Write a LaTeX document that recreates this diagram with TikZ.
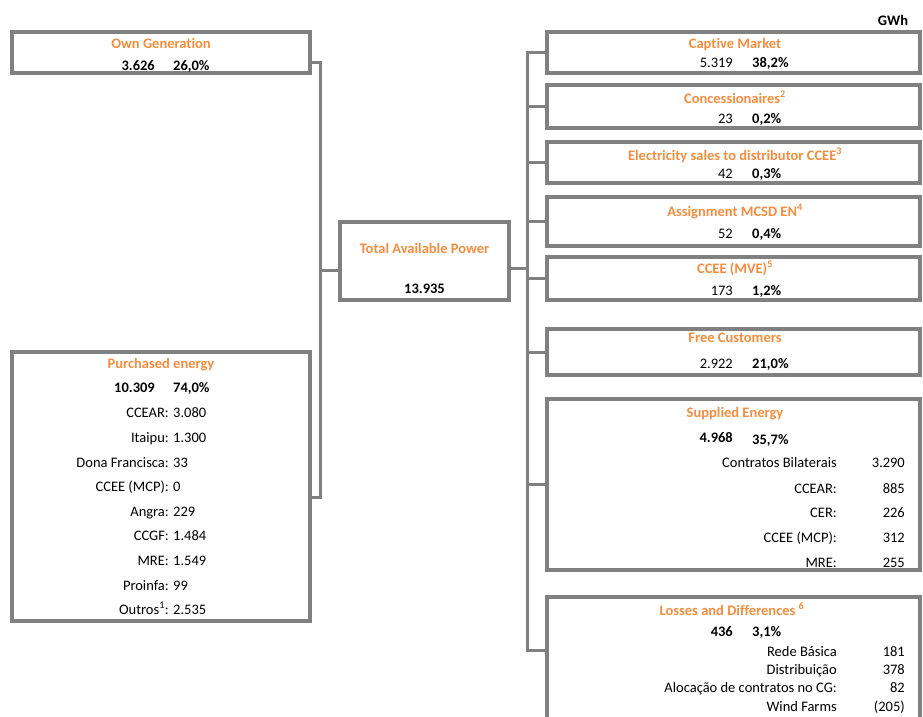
\documentclass[tikz,border=0pt]{standalone}
\usepackage{fontspec}
\setmainfont{Carlito}[Ligatures=NoCommon]
\definecolor{boxgray}{RGB}{128,128,128}
\definecolor{titleorange}{RGB}{247,140,60}

\begin{document}
\begin{tikzpicture}[x=1pt,y=-1pt]

\tikzset{
  panel/.style={
    draw=boxgray,
    line width=4pt,
    inner sep=0pt,
    outer sep=0pt,
  },
  link/.style={draw=boxgray, line width=3pt},
  txt/.style={inner sep=0pt, font=\fontsize{14.5}{17}\selectfont},
  head/.style={txt, text=titleorange, font=\fontsize{14.5}{17}\selectfont\bfseries, anchor=base},
  val/.style={txt, anchor=base east},
  bval/.style={txt, font=\fontsize{14.5}{17}\selectfont\bfseries, anchor=base east},
  pct/.style={txt, font=\fontsize{14.5}{17}\selectfont\bfseries, anchor=base west},
  item/.style={txt, anchor=base east},
  itemval/.style={txt, anchor=base west},
}

% Page frame
\useasboundingbox (0,0) rectangle (923,716);
\clip (0,0) rectangle (923,716);

% Unit
\node[txt, font=\fontsize{14.5}{17}\selectfont\bfseries, anchor=base] (unit) at (893,25) {GWh};

% Left boxes
\node[panel, minimum width=298pt, minimum height=41pt]  (own)   at (161,52.5)  {};
\node[panel, minimum width=298pt, minimum height=269pt] (purch) at (161,486.5) {};

% Centre box
\node[panel, minimum width=169pt, minimum height=78pt] (total) at (424.5,261) {};

% Right boxes
\node[panel, minimum width=373.5pt, minimum height=41pt]  (captive)  at (733.5,52.5)  {};
\node[panel, minimum width=373.5pt, minimum height=43pt]  (conc)     at (733.5,106.5) {};
\node[panel, minimum width=373.5pt, minimum height=41pt]  (elec)     at (733.5,162.5) {};
\node[panel, minimum width=373.5pt, minimum height=49pt]  (assign)   at (733.5,221.5) {};
\node[panel, minimum width=373.5pt, minimum height=43pt]  (mve)      at (733.5,278.5) {};
\node[panel, minimum width=373.5pt, minimum height=46pt]  (free)     at (733.5,352)   {};
\node[panel, minimum width=373.5pt, minimum height=171pt] (supplied) at (733.5,484.5) {};
\node[panel, minimum width=373.5pt, minimum height=138pt] (losses)   at (733.5,666)   {};

% Buses
\coordinate (lbus) at (320,270);
\coordinate (rbus) at (527,268);

% Left connectors
\draw[link] ([yshift=-9.5pt]own.east) -| (lbus) |- ([yshift=-10.5pt]purch.east);
\draw[link] (lbus) -- (lbus -| total.west);

% Right connectors
\draw[link] (total.east |- rbus) -- (rbus);
\draw[link] (captive.west) -| (rbus) |- ([yshift=16pt]losses.west);
\foreach \b in {conc,elec,assign,mve,free,supplied}
  \draw[link] (\b.west) -- (\b.west -| rbus);

% Own generation
\node[head] (ownT) at (161,48) {Own Generation};
\node[bval] (ownV) at (155,70) {3.626};
\node[pct]  (ownP) at (173,70) {26,0\%};

% Purchased energy
\node[head] (purchT) at (161,368) {Purchased energy};
\node[bval] (purchV) at (155,392) {10.309};
\node[pct]  (purchP) at (173,392) {74,0\%};

\node[item] (p1) at (169,417) {CCEAR:};          \node[itemval] (p1v) at (173,417) {3.080};
\node[item] (p2) at (169,442) {Itaipu:};         \node[itemval] (p2v) at (173,442) {1.300};
\node[item] (p3) at (169,467) {Dona Francisca:}; \node[itemval] (p3v) at (173,467) {33};
\node[item] (p4) at (169,491) {CCEE (MCP):};     \node[itemval] (p4v) at (173,491) {0};
\node[item] (p5) at (169,516) {Angra:};          \node[itemval] (p5v) at (173,516) {229};
\node[item] (p6) at (169,540) {CCGF:};           \node[itemval] (p6v) at (173,540) {1.484};
\node[item] (p7) at (169,565) {MRE:};            \node[itemval] (p7v) at (173,565) {1.549};
\node[item] (p8) at (169,590) {Proinfa:};        \node[itemval] (p8v) at (173,590) {99};
\node[item] (p9) at (169,614) {Outros\textsuperscript{1}:}; \node[itemval] (p9v) at (173,614) {2.535};

% Total available power
\node[head] (totalT) at (424.5,253) {Total Available Power};
\node[txt, font=\fontsize{14.5}{17}\selectfont\bfseries, anchor=base] (totalV) at (424.5,293) {13.935};

% Captive market
\node[head] (captiveT) at (735,48) {Captive Market};
\node[val]  (captiveV) at (733,67) {5.319};
\node[pct]  (captiveP) at (752,67) {38,2\%};

% Concessionaires
\node[head] (concT) at (735,103) {Concessionaires\textsuperscript{2}};
\node[val]  (concV) at (733,123) {23};
\node[pct]  (concP) at (752,123) {0,2\%};

% Electricity sales
\node[head] (elecT) at (735,160) {Electricity sales to distributor CCEE\textsuperscript{3}};
\node[val]  (elecV) at (733,178) {42};
\node[pct]  (elecP) at (752,178) {0,3\%};

% Assignment
\node[head] (assignT) at (735,216) {Assignment MCSD EN\textsuperscript{4}};
\node[val]  (assignV) at (733,238) {52};
\node[pct]  (assignP) at (752,238) {0,4\%};

% CCEE (MVE)
\node[head] (mveT) at (735,273) {CCEE (MVE)\textsuperscript{5}};
\node[val]  (mveV) at (733,295) {173};
\node[pct]  (mveP) at (752,295) {1,2\%};

% Free customers
\node[head] (freeT) at (735,342) {Free Customers};
\node[val]  (freeV) at (733,368) {2.922};
\node[pct]  (freeP) at (752,368) {21,0\%};

% Supplied energy
\node[head] (suppliedT) at (735,417) {Supplied Energy};
\node[bval] (suppliedV) at (733,442) {4.968};
\node[pct]  (suppliedP) at (752,444) {35,7\%};

\node[item] (s1) at (837,467) {Contratos Bilaterais}; \node[item] (s1v) at (905,467) {3.290};
\node[item] (s2) at (837,493) {CCEAR:};               \node[item] (s2v) at (905,493) {885};
\node[item] (s3) at (837,517) {CER:};                 \node[item] (s3v) at (905,517) {226};
\node[item] (s4) at (837,542) {CCEE (MCP):};          \node[item] (s4v) at (905,542) {312};
\node[item] (s5) at (837,567) {MRE:};                 \node[item] (s5v) at (905,567) {255};

% Losses and differences
\node[head] (lossesT) at (732,615) {Losses and Differences \textsuperscript{6}};
\node[bval] (lossesV) at (733,636) {436};
\node[pct]  (lossesP) at (752,636) {3,1\%};

\node[item] (l1) at (837,656) {Rede Básica};                 \node[item] (l1v) at (905,656) {181};
\node[item] (l2) at (837,674) {Distribuição};                \node[item] (l2v) at (905,674) {378};
\node[item] (l3) at (837,692) {Alocação de contratos no CG:}; \node[item] (l3v) at (905,692) {82};
\node[item] (l4) at (837,711) {Wind Farms};                  \node[item] (l4v) at (905,711) {(205)};

\end{tikzpicture}
\end{document}
